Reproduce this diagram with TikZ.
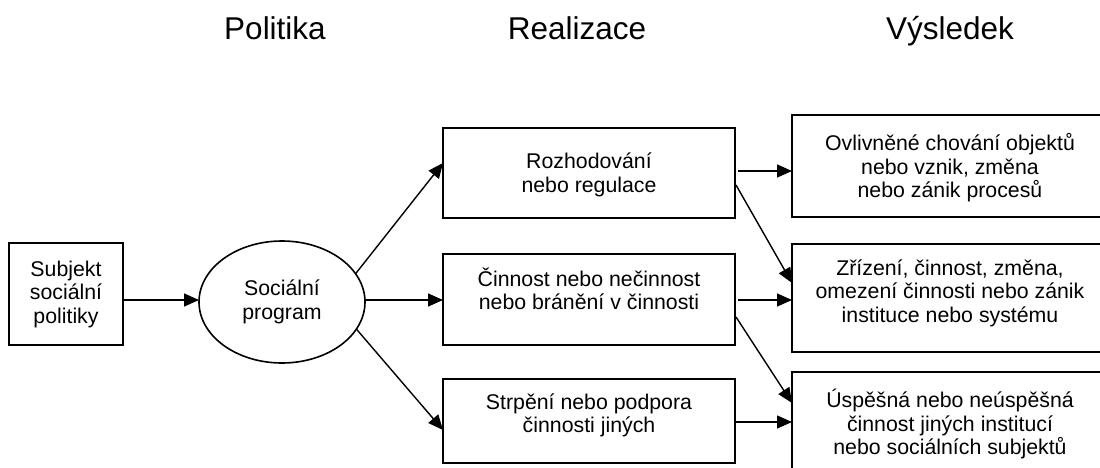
\documentclass[tikz,border=0pt]{standalone}
\usepackage{fontspec}
\setmainfont{Liberation Sans}
\usetikzlibrary{shapes.geometric,arrows.meta}
\begin{document}
\begin{tikzpicture}[x=1pt,y=-1pt,
  box/.style={draw, line width=1.6pt, rectangle, inner sep=0pt, outer sep=0pt, align=center, font=\fontsize{21.3}{23.5}\selectfont},
  oval/.style={draw, line width=1.6pt, ellipse, inner sep=0pt, outer sep=0pt, align=center, font=\fontsize{21.3}{23.5}\selectfont},
  txt/.style={align=center, inner sep=0pt, font=\fontsize{21.3}{23.5}\selectfont},
  coltitle/.style={anchor=base, inner sep=0pt, font=\fontsize{31.5}{36}\selectfont},
  arr/.style={line width=1.4pt, -{Triangle[length=15pt,width=13pt]}}]
\useasboundingbox (0,0) rectangle (1100,468);
\fill[white] (0,0) rectangle (1100,468);
\clip (0,0) rectangle (1100,468);

% column titles
\node[coltitle] (tp) at (275,39.5) {Politika};
\node[coltitle] (tr) at (577,39.5) {Realizace};
\node[coltitle] (tv) at (950,39.5) {Výsledek};

% left
\node[box, minimum width=114pt, minimum height=102pt] (s) at (66,294) {Subjekt\\sociální\\politiky};
\node[oval, minimum width=166pt, minimum height=122pt] (e) at (282,302) {Sociální\\program};

% middle
\node[box, minimum width=292pt, minimum height=90pt] (b1) at (589,173) {};
\node[txt] (b1t) at ([yshift=-2pt]b1.center) {Rozhodování\\nebo regulace};
\node[box, minimum width=292pt, minimum height=91pt] (b2) at (589,299.5) {};
\node[txt] (b2t) at ([yshift=10.5pt]b2.center) {Činnost nebo nečinnost\\nebo bránění v činnosti};
\node[box, minimum width=292pt, minimum height=84pt] (b3) at (589,421) {};
\node[txt] (b3t) at ([yshift=5.5pt]b3.center) {Strpění nebo podpora\\činnosti jiných};

% right (boxes run past the right and bottom edges of the picture)
\node[box, minimum width=360pt, minimum height=102pt] (r1) at (972,166) {};
\node[txt] (r1t) at (950,168) {Ovlivněné chování objektů\\nebo vznik, změna\\nebo zánik procesů};
\node[box, minimum width=360pt, minimum height=108pt] (r2) at (972,298) {};
\node[txt] (r2t) at (950,293) {Zřízení, činnost, změna,\\omezení činnosti nebo zánik\\instituce nebo systému};
\node[box, minimum width=360pt, minimum height=130pt] (r3) at (972,437) {};
\node[txt] (r3t) at (950,424) {Úspěšná nebo neúspěšná\\činnost jiných institucí\\nebo sociálních subjektů};

% connectors
\draw[arr] ([yshift=-6pt]s.east) -- ([yshift=2pt]e.west);
\draw[arr] (e.21.8) -- ([yshift=10pt]b1.west);
\draw[arr] ([yshift=2pt]e.east) -- ([yshift=-0.5pt]b2.west);
\draw[arr] (e.-20.5) -- ([yshift=-9pt]b3.west);

\draw[arr] ([xshift=3pt,yshift=2pt]b1.east) -- ([yshift=-5pt]r1.west);
\draw[arr] ([xshift=1pt,yshift=-12pt]b1.east) -- ([yshift=15pt]r2.west);
\draw[arr] ([xshift=3pt,yshift=-0.5pt]b2.east) -- ([yshift=-2pt]r2.west);
\draw[arr] ([xshift=1pt,yshift=-17.5pt]b2.east) -- ([yshift=34pt]r3.west);
\draw[arr] ([xshift=0pt,yshift=-1pt]b3.east) -- ([yshift=15pt]r3.west);
\end{tikzpicture}
\end{document}
